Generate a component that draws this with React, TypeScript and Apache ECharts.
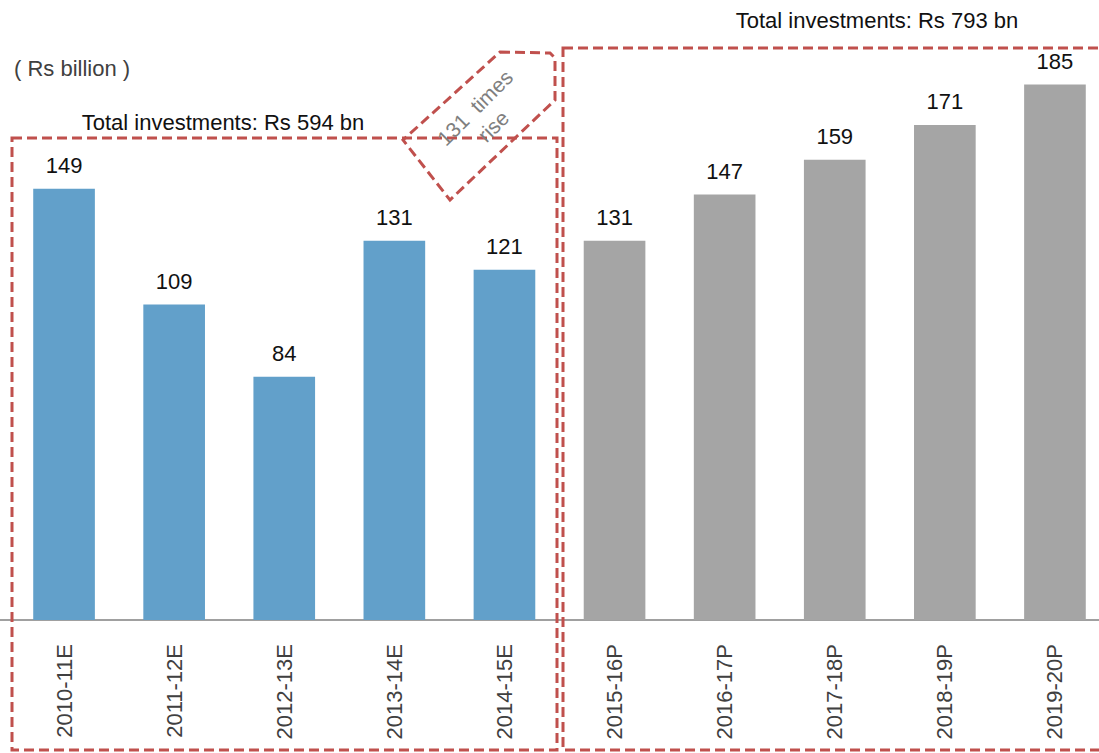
import React, { useEffect, useRef } from "react";
import * as echarts from "echarts";

const categories = [
  "2010-11E", "2011-12E", "2012-13E", "2013-14E", "2014-15E",
  "2015-16P", "2016-17P", "2017-18P", "2018-19P", "2019-20P",
];
const values = [149, 109, 84, 131, 121, 131, 147, 159, 171, 185];
const estimatedCount = 5;
const unitLabel = "( Rs billion )";
const leftTotal = "Total investments: Rs 594 bn";
const rightTotal = "Total investments: Rs 793 bn";
const riseText = "131  times\nrise";

const BLUE = "#62a0ca";
const GREY = "#a5a5a5";
const RED = "#c0504d";

export default function App() {
  const ref = useRef<HTMLDivElement>(null);
  useEffect(() => {
    if (!ref.current) return;
    const chart = echarts.init(ref.current, undefined, { renderer: "svg" });
    const font = "'Liberation Sans', Arial, sans-serif";
    chart.setOption({
      animation: false,
      grid: { left: 9, right: 0, top: 41, bottom: 133, containLabel: false },
      xAxis: {
        type: "category",
        data: categories,
        axisLine: { show: true, lineStyle: { color: "#a0a0a0", width: 2 } },
        axisTick: { show: false },
        axisLabel: {
          rotate: 90,
          margin: 24,
          fontSize: 22,
          color: "#404040",
          fontFamily: font,
        },
      },
      yAxis: {
        type: "value",
        min: 0,
        max: 200,
        show: false,
        splitLine: { show: false },
      },
      series: [
        {
          type: "bar",
          barWidth: "56%",
          data: values.map((v, i) => ({
            value: v,
            itemStyle: { color: i < estimatedCount ? BLUE : GREY },
          })),
          label: {
            show: true,
            position: "top",
            distance: 12,
            fontSize: 22,
            color: "#111",
            fontFamily: font,
          },
        },
      ],
      graphic: [
        {
          type: "line",
          shape: { x1: 0, y1: 620, x2: 12, y2: 620 },
          style: { stroke: "#a0a0a0", lineWidth: 2 },
        },
        {
          type: "rect",
          shape: { x: 12, y: 138, width: 545, height: 612 },
          style: { fill: "none", stroke: RED, lineWidth: 3, lineDash: [10, 5] },
          z: 10,
        },
        {
          type: "rect",
          shape: { x: 563, y: 48, width: 600, height: 702 },
          style: { fill: "none", stroke: RED, lineWidth: 3, lineDash: [10, 5] },
          z: 10,
        },
        {
          type: "polygon",
          shape: {
            points: [
              [500, 52],
              [550, 53],
              [555, 58],
              [555, 100],
              [450, 200],
              [403, 140],
            ],
          },
          style: { fill: "none", stroke: RED, lineWidth: 3, lineDash: [10, 5] },
          z: 10,
        },
        {
          type: "text",
          x: 484,
          y: 117,
          rotation: Math.PI / 4,
          style: {
            text: riseText,
            fontSize: 21,
            fontFamily: font,
            fill: "#7f7f7f",
            align: "center",
            verticalAlign: "middle",
            lineHeight: 26,
          },
          z: 11,
        },
        {
          type: "text",
          x: 14,
          y: 68,
          style: {
            text: unitLabel,
            fontSize: 22,
            fontFamily: font,
            fill: "#404040",
            align: "left",
            verticalAlign: "middle",
          },
        },
        {
          type: "text",
          x: 223,
          y: 122,
          style: {
            text: leftTotal,
            fontSize: 22,
            fontFamily: font,
            fill: "#111",
            align: "center",
            verticalAlign: "middle",
          },
        },
        {
          type: "text",
          x: 877,
          y: 20,
          style: {
            text: rightTotal,
            fontSize: 22,
            fontFamily: font,
            fill: "#111",
            align: "center",
            verticalAlign: "middle",
          },
        },
      ],
    });
    return () => chart.dispose();
  }, []);
  return (
    <div
      style={{
        position: "fixed",
        left: 0,
        top: 0,
        width: 1099,
        height: 753,
        overflow: "hidden",
        background: "#fff",
      }}
    >
      <div ref={ref} style={{ width: 1110, height: 753 }} />
    </div>
  );
}
